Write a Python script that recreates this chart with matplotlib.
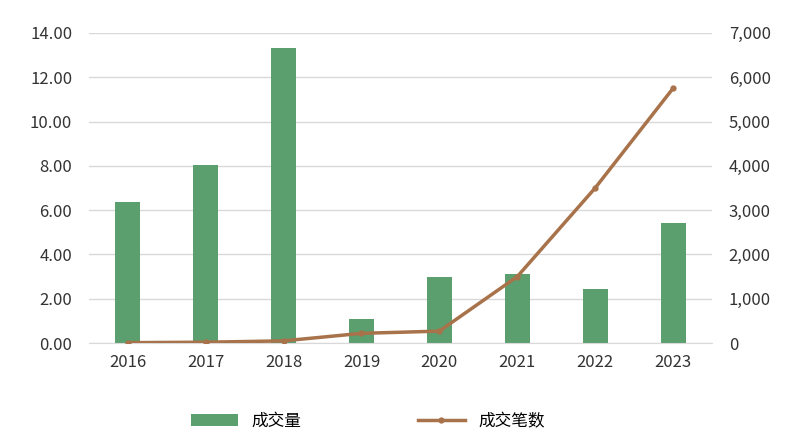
import matplotlib
matplotlib.use("Agg")
import matplotlib.pyplot as plt
from matplotlib.ticker import FuncFormatter

plt.rcParams['font.family'] = ['Noto Sans CJK SC', 'DejaVu Sans']

years = ["2016", "2017", "2018", "2019", "2020", "2021", "2022", "2023"]
volume = [6.35, 8.05, 13.3, 1.1, 3.0, 3.1, 2.45, 5.4]
deals = [10, 20, 50, 220, 270, 1500, 3500, 5750]

fig = plt.figure(figsize=(8, 4.45), dpi=100)
ax = fig.add_axes([0.111, 0.229, 0.779, 0.697])
x = range(len(years))
b = ax.bar(x, volume, width=0.32, color="#5b9f6f", label="成交量", zorder=2)
ax.set_ylim(0, 14)
ax.set_yticks([0, 2, 4, 6, 8, 10, 12, 14])
ax.yaxis.set_major_formatter(FuncFormatter(lambda v, p: f"{v:.2f}"))
ax.set_xticks(list(x))
ax.set_xticklabels(years)
ax.set_xlim(-0.5, len(years) - 0.5)
ax.grid(axis='y', color="#d9d9d9", lw=1, zorder=0)
for s in ax.spines.values():
    s.set_visible(False)
ax.spines['bottom'].set_visible(True)
ax.spines['bottom'].set_color("#d9d9d9")
ax.tick_params(length=0, labelsize=12, colors="#333333")
ax.tick_params(axis='x', pad=8)
ax.tick_params(axis='y', pad=12)

ax2 = ax.twinx()
l, = ax2.plot(list(x), deals, color="#a8724a", lw=2.5, marker='o', ms=3.5, label="成交笔数")
ax2.set_ylim(0, 7000)
ax2.set_yticks(range(0, 7001, 1000))
ax2.yaxis.set_major_formatter(FuncFormatter(lambda v, p: f"{int(v):,}"))
for s in ax2.spines.values():
    s.set_visible(False)
ax2.tick_params(length=0, labelsize=12, colors="#333333", pad=12)

fig.legend([b, l], ["成交量", "成交笔数"], loc="lower center", ncol=2, frameon=False,
           fontsize=12, bbox_to_anchor=(0.46, 0.0), columnspacing=7, handlelength=2.8)
fig.savefig("out.png", dpi=100)
